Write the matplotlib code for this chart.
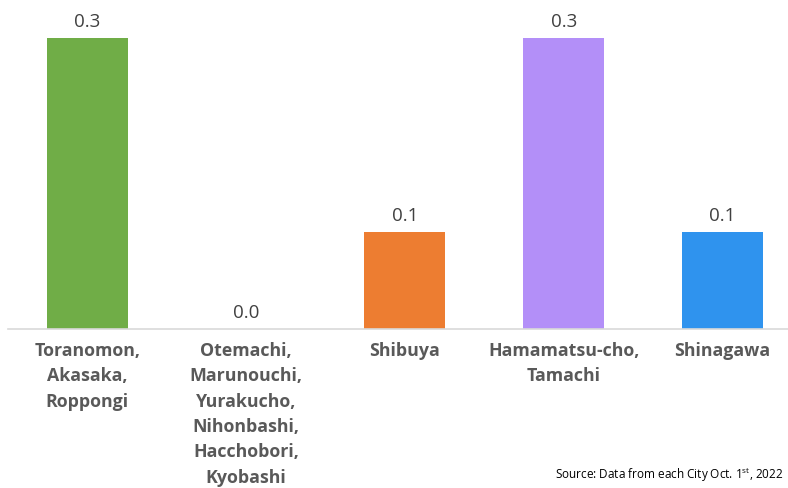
import matplotlib.pyplot as plt

areas = ["Toranomon,\nAkasaka,\nRoppongi",
         "Otemachi,\nMarunouchi,\nYurakucho,\nNihonbashi,\nHacchobori,\nKyobashi",
         "Shibuya",
         "Hamamatsu-cho,\nTamachi",
         "Shinagawa"]
values = [0.3, 0.0, 0.1, 0.3, 0.1]
colors = ["#70AD47", "#4472C4", "#ED7D31", "#B38FF8", "#2F93EE"]

plt.rcParams['font.family'] = ['Open Sans', 'DejaVu Sans']

fig = plt.figure(figsize=(7.88, 4.88), dpi=100)
# axes runs from x=8px to right edge, baseline at y=329px, 0.3 at y=37.7px
ax = fig.add_axes([8/788, (488-329)/488, 780/788, (329-37.7)/488])

x = range(len(areas))
ax.bar(x, values, width=0.51, color=colors)
ax.set_xlim(-0.5, -0.5 + 780/158.75)
ax.set_ylim(0, 0.3)

for i, v in enumerate(values):
    ax.annotate(f"{v:.1f}", (i, v), xytext=(0, 5), textcoords="offset points",
                ha="center", va="bottom", fontsize=13.5, color="#404040")

ax.set_xticks(list(x))
ax.set_xticklabels(areas, fontsize=12.8, fontweight="bold", color="#595959",
                   linespacing=1.52, va="top")
ax.tick_params(axis="x", length=0, pad=9.5)
ax.set_yticks([])

for s in ["top", "right", "left"]:
    ax.spines[s].set_visible(False)
ax.spines["bottom"].set_color("#D9D9D9")
ax.spines["bottom"].set_linewidth(1.2)

fig.text(783/788, 1 - 475/488, "Source: Data from each City Oct. 1$^{\\mathregular{st}}$, 2022",
         ha="right", va="center", fontsize=8.5, color="#000000")

fig.savefig("out.png", dpi=100)
